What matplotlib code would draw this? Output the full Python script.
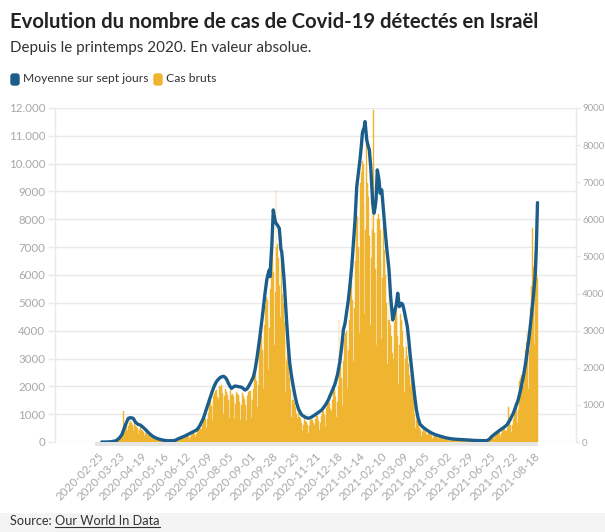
import pandas as pd
import matplotlib as mpl
mpl.use('Agg')
import matplotlib.pyplot as plt
import matplotlib.dates as mdates
from matplotlib.patches import FancyBboxPatch, Rectangle
from matplotlib.lines import Line2D

## Data

start = pd.Timestamp('2020-02-25')

# raw daily cases (left axis), one value per day from 2020-02-25
bar_vals = [
    0, 1, 0, 0, 1, 2, 1,
    3, 4, 5, 4, 3, 8, 12,
    15, 20, 25, 30, 28, 45, 60,
    90, 120, 150, 190, 170, 260, 1130,
    520, 600, 620, 560, 380, 560, 690,
    700, 740, 690, 600, 380, 580, 720,
    560, 540, 520, 430, 270, 440, 560,
    440, 430, 410, 360, 210, 340, 450,
    270, 260, 250, 220, 130, 210, 280,
    140, 135, 130, 115, 65, 110, 145,
    80, 75, 72, 62, 35, 60, 82,
    45, 42, 40, 36, 20, 34, 48,
    38, 36, 40, 32, 18, 30, 44,
    70, 85, 95, 90, 50, 80, 120,
    140, 160, 170, 150, 90, 130, 175,
    230, 250, 240, 210, 120, 190, 260,
    320, 340, 330, 290, 170, 270, 350,
    420, 480, 520, 470, 280, 450, 600,
    780, 880, 950, 830, 500, 820, 1040,
    1300, 1420, 1480, 1300, 760, 1250, 1660,
    1750, 1850, 1880, 1600, 950, 1550, 2000,
    1980, 2050, 2000, 1750, 1020, 1650, 1900,
    1850, 1800, 1700, 1500, 850, 1450, 1920,
    1700, 1720, 1650, 1450, 820, 1350, 1780,
    1720, 1700, 1640, 1430, 800, 1340, 1760,
    1600, 1650, 1560, 1340, 760, 1270, 1670,
    1800, 1850, 1820, 1600, 880, 1500, 1900,
    2300, 2500, 2550, 2200, 1250, 2050, 2600,
    3500, 3700, 3800, 3300, 1900, 3200, 4200,
    4900, 5200, 5100, 4400, 2600, 4100, 5500,
    6900, 7200, 7600, 6100, 3500, 5400, 9050,
    7000, 7100, 6600, 5600, 3000, 4500, 6500,
    5300, 5000, 4300, 3700, 1800, 2900, 3800,
    2900, 2600, 2300, 1900, 900, 1500, 1900,
    1500, 1400, 1250, 1000, 550, 850, 1150,
    900, 850, 800, 700, 380, 600, 850,
    760, 750, 720, 620, 340, 560, 750,
    820, 800, 780, 680, 370, 620, 820,
    950, 920, 880, 770, 420, 700, 950,
    1150, 1150, 1100, 960, 540, 880, 1220,
    1400, 1450, 1400, 1200, 680, 1100, 1520,
    1800, 1900, 1850, 1600, 900, 1450, 2000,
    4380, 2600, 2700, 2300, 1300, 2200, 2900,
    3700, 3900, 4000, 3500, 1900, 3300, 4400,
    5500, 5900, 6000, 5100, 2900, 4800, 6500,
    7800, 8200, 8100, 7000, 3900, 6500, 9300,
    9700, 10100, 10000, 8500, 4600, 7600, 10700,
    9300, 9000, 8800, 7400, 4200, 6600, 8600,
    7600, 11930, 7500, 6200, 3500, 5800, 8000,
    8200, 8000, 7600, 6500, 3700, 5900, 7800,
    6900, 6500, 6000, 5000, 2800, 4400, 5500,
    4400, 4200, 3800, 3200, 1800, 3000, 4300,
    4600, 4800, 4500, 3800, 2100, 3500, 4600,
    4400, 4300, 4000, 3400, 1800, 3000, 3900,
    3400, 3100, 2800, 2400, 1300, 2000, 2500,
    1900, 1600, 1300, 1000, 500, 800, 1000,
    750, 640, 520, 430, 220, 350, 450,
    420, 390, 360, 300, 160, 260, 340,
    300, 280, 260, 220, 120, 190, 260,
    220, 210, 195, 170, 90, 140, 190,
    160, 150, 140, 120, 65, 105, 140,
    115, 110, 105, 90, 50, 78, 105,
    92, 90, 86, 74, 40, 65, 88,
    80, 78, 75, 65, 35, 56, 76,
    68, 66, 62, 54, 30, 48, 64,
    56, 54, 52, 45, 25, 40, 53,
    47, 46, 44, 38, 21, 34, 45,
    40, 42, 40, 34, 20, 30, 46,
    60, 70, 125, 80, 40, 60, 100,
    180, 220, 240, 210, 120, 200, 270,
    320, 350, 350, 310, 170, 280, 380,
    450, 480, 470, 400, 230, 380, 520,
    1270, 700, 720, 620, 350, 600, 820,
    1200, 1350, 1400, 1250, 700, 1150, 1600,
    2200, 2300, 2400, 2100, 1150, 2000, 2900,
    3300, 3600, 4000, 3500, 1900, 3300, 4800,
    5000, 5600, 7700, 6300, 3500, 5900, 6900,
    7600, 5900,
]

# 7-day average (right axis): day offset from 2020-02-25, value
line_days = [0, 6, 12, 18, 22, 25, 28, 31, 33, 35, 37, 39, 42, 45, 48, 51, 54, 58,
             61, 64, 68, 72, 76, 80, 85, 89, 92, 95, 99, 103, 107, 111, 115, 118,
             121, 123, 126, 128, 131, 134, 137, 140, 142, 144.5, 147, 149, 151,
             153, 155, 157, 159, 161, 163, 165, 169, 173.5, 177.6, 180, 182, 185,
             188, 190, 192, 194, 196, 198, 200, 202, 204.5, 206, 207.7, 208.5,
             209.5, 210.7, 212.6, 213.9, 215, 216, 217.6, 219, 220, 221, 222, 223,
             224, 226, 229, 231, 233, 235, 237.4, 239.5, 241.6, 244, 247.8, 252,
             256, 260, 264, 268, 272.6, 277, 280.8, 283, 286, 289, 292, 295, 297.5,
             299.4, 301.5, 303.5, 305.6, 307.7, 309.8, 311.9, 313.9, 316, 318, 320,
             322, 323, 324, 325, 326.3, 327.3, 328.4, 330, 331.6, 333.3, 334.6,
             335.8, 337.4, 338.6, 339.9, 341.5, 342.5, 343.6, 344.9, 347, 349, 351,
             353, 356, 358, 360.6, 362, 363.4, 365, 366.8, 368.8, 370, 371.7, 373,
             374.6, 376.5, 378.7, 380.5, 382, 384, 386, 388, 390, 392, 394.4, 398,
             402.7, 408, 413, 419, 425, 432, 438, 444, 452, 460, 468, 477, 480, 483,
             488, 493.6, 498, 502, 506, 510, 513, 516, 519, 522.4, 525.5, 528.6,
             530.7, 532.8, 535, 537, 538.5, 539.5, 540]
line_vals = [0, 0, 8, 35, 110, 200, 380, 547, 638, 655, 650, 638, 530, 475, 455, 400,
             340, 250, 190, 143, 100, 72, 50, 38, 33, 35, 55, 89, 125, 162, 205, 250,
             295, 330, 420, 503, 640, 773, 970, 1178, 1370, 1536, 1620, 1690, 1740,
             1760, 1770, 1743, 1680, 1582, 1500, 1447, 1480, 1509, 1495, 1474, 1400,
             1430, 1500, 1620, 1760, 1950, 2210, 2520, 2838, 3200, 3558, 3950, 4366,
             4520, 4636, 4456, 4850, 5264, 6253, 6073, 5950, 5893, 5849, 5800, 5760,
             5500, 5200, 5130, 4900, 4366, 3288, 2650, 2120, 1800, 1490, 1250, 1043,
             880, 728, 670, 638, 670, 728, 790, 863, 990, 1132, 1250, 1400, 1560,
             1800, 2150, 2600, 3019, 3199, 3500, 3827, 4250, 4725, 5350, 5984, 6881,
             7250, 7601, 8050, 8320, 8410, 8450, 8634, 8400, 8140, 7990, 7871, 7420,
             6881, 6433, 6164, 6300, 6523, 7332, 7200, 7062, 6703, 6792, 6253, 5750,
             5264, 4636, 3916, 3288, 3400, 3558, 3700, 4008, 3647, 3700, 3737, 3700,
             3558, 3350, 3109, 2750, 2390, 1980, 1582, 1200, 863, 650, 480, 400, 323,
             250, 200, 160, 120, 90, 75, 68, 55, 45, 38, 35, 70, 143, 230, 323, 390,
             458, 600, 773, 950, 1132, 1400, 1760, 2150, 2660, 3050, 3469, 3950,
             4456, 5200, 6000, 6450]

left_ticks = [0, 1000, 2000, 3000, 4000, 5000, 6000, 7000, 8000, 9000, 10000, 11000, 12000]
left_labels = ['0', '1000', '2000', '3000', '4000', '5000', '6000', '7000', '8000',
               '9000', '10.000', '11.000', '12.000']
right_ticks = [0, 1000, 2000, 3000, 4000, 5000, 6000, 7000, 8000, 9000]

title = "Evolution du nombre de cas de Covid-19 détectés en Israël"
subtitle = "Depuis le printemps 2020. En valeur absolue."

## Styles
blue = '#1b5e8c'
yellow = '#f0b530'
grid_c = '#e9e9e9'
tick_c = '#a8a8a8'
txt_c = '#333333'
plt.rcParams['font.family'] = ['Lato', 'DejaVu Sans']

bar_dates = pd.date_range(start, periods=len(bar_vals), freq='D')
line_dates = [start + pd.Timedelta(days=d) for d in line_days]
tick_dates = pd.date_range(start, periods=21, freq='27D')

W, H = 605, 532
fig = plt.figure(figsize=(W / 100, H / 100), dpi=100)
fig.patch.set_facecolor('white')

ax = fig.add_axes([55 / W, 1 - 442 / H, (576 - 55) / W, (442 - 108) / H])
ax.bar(bar_dates, bar_vals, width=1.0, color=yellow, edgecolor=yellow,
       linewidth=0.3, zorder=2)
ax.set_ylim(0, 12000)
ax.set_xlim(start - pd.Timedelta(days=57.9), start + pd.Timedelta(days=587.7))
ax.set_yticks(left_ticks)
ax.set_yticklabels(left_labels)
ax.yaxis.grid(True, color=grid_c, linewidth=1, zorder=0)
ax.set_axisbelow(True)

# grey band under the bars
band_x0 = mdates.date2num(start - pd.Timedelta(days=8))
band_x1 = mdates.date2num(bar_dates[-1] + pd.Timedelta(days=0.5))
ax.add_patch(Rectangle((band_x0, -150), band_x1 - band_x0, 150, color='#e6e6e6',
                       linewidth=0, clip_on=False, zorder=1))

ax.set_xticks(tick_dates)
ax.set_xticklabels([d.strftime('%Y-%m-%d') for d in tick_dates], rotation=45,
                   ha='right', va='center', rotation_mode='anchor')
ax.tick_params(axis='x', length=0, pad=9, labelsize=8.3, labelcolor=tick_c)
ax.tick_params(axis='y', length=5, color=grid_c, width=1, pad=2, labelsize=8.3,
               labelcolor=tick_c)
for s in ['top', 'bottom']:
    ax.spines[s].set_visible(False)
for s in ['left', 'right']:
    ax.spines[s].set_color(grid_c)
    ax.spines[s].set_linewidth(1)

ax2 = ax.twinx()
ax2.plot(line_dates, line_vals, color=blue, linewidth=2.4, solid_joinstyle='round',
         solid_capstyle='round', zorder=3)
ax2.set_ylim(0, 9000)
ax2.set_yticks(right_ticks)
ax2.set_yticklabels([str(v) for v in right_ticks])
ax2.tick_params(axis='y', length=3, color=grid_c, width=1, pad=1.5, labelsize=7.0,
                labelcolor=tick_c)
for s in ['top', 'bottom', 'left', 'right']:
    ax2.spines[s].set_visible(False)

## Header texts
fig.text(10 / W, 1 - 28 / H, title, fontsize=14.6, fontweight='bold', color='#222222',
         va='baseline')
fig.text(10 / W, 1 - 52 / H, subtitle, fontsize=10.9, color=txt_c, va='baseline')

# legend
fig.patches.append(FancyBboxPatch((11 / W, 1 - 85 / H), 8 / W, 11 / H,
                                  boxstyle='round,pad=0,rounding_size=0.004',
                                  transform=fig.transFigure, color=blue))
fig.text(23 / W, 1 - 79 / H, "Moyenne sur sept jours", fontsize=8.7, color=txt_c,
         va='center')
fig.patches.append(FancyBboxPatch((154 / W, 1 - 85 / H), 8 / W, 11 / H,
                                  boxstyle='round,pad=0,rounding_size=0.004',
                                  transform=fig.transFigure, color=yellow))
fig.text(166 / W, 1 - 79 / H, "Cas bruts", fontsize=8.7, color=txt_c, va='center')

## Footer
fig.patches.append(Rectangle((0, 0), 1, 19 / H, transform=fig.transFigure,
                             color='#f4f4f4', linewidth=0, zorder=0))
t1 = fig.text(10 / W, 1 - 525 / H, "Source: ", fontsize=9.2, color=txt_c, va='baseline')
fig.canvas.draw()
bb = t1.get_window_extent()
t2 = fig.text(bb.x1 / W, 1 - 525 / H, "Our World In Data", fontsize=9.2, color=txt_c,
              va='baseline')
fig.canvas.draw()
bb2 = t2.get_window_extent()
uy = 1 - 527 / H
fig.lines.append(Line2D([bb2.x0 / W, bb2.x1 / W], [uy, uy], transform=fig.transFigure,
                        color=txt_c, linewidth=0.8))

fig.savefig('out.png', dpi=100)
